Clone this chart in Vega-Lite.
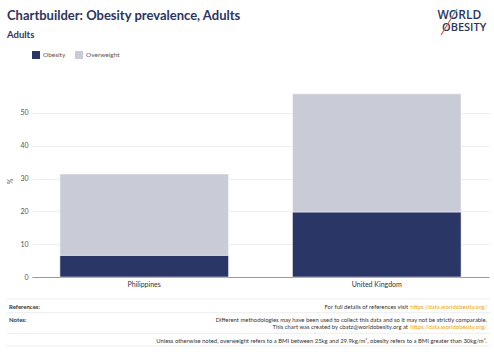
{
  "$schema": "https://vega.github.io/schema/vega-lite/v6.json",
  "background": "white",
  "padding": {"left": 6, "top": 8, "right": 6, "bottom": 2},
  "config": {
    "font": "Lato",
    "view": {"stroke": null}
  },
  "resolve": {"legend": {"color": "independent"}},
  "spacing": 2,
  "vconcat": [
    {
      "width": 457,
      "height": 40,
      "data": {
        "values": [
          {"role": "title", "text": "Chartbuilder: Obesity prevalence, Adults"},
          {"role": "subtitle", "text": "Adults"},
          {"role": "logo1", "text": "WORLD"},
          {"role": "logo2", "text": "OBESITY"},
          {"role": "slash", "text": ""}
        ]
      },
      "layer": [
        {
          "transform": [{"filter": "datum.role === 'title'"}],
          "mark": {"type": "text", "align": "left", "baseline": "alphabetic", "fontSize": 13, "fontWeight": "bold", "color": "#2b3560"},
          "encoding": {"text": {"field": "text"}, "x": {"value": -25}, "y": {"value": 11}}
        },
        {
          "transform": [{"filter": "datum.role === 'subtitle'"}],
          "mark": {"type": "text", "align": "left", "baseline": "alphabetic", "fontSize": 9.5, "fontWeight": "bold", "color": "#2b3560"},
          "encoding": {"text": {"field": "text"}, "x": {"value": -25}, "y": {"value": 29}}
        },
        {
          "transform": [{"filter": "datum.role === 'logo1'"}],
          "mark": {"type": "text", "align": "left", "baseline": "alphabetic", "fontSize": 12, "fontWeight": 600, "color": "#2b3560", "font": "Open Sans"},
          "encoding": {"text": {"field": "text"}, "x": {"value": 405.5}, "y": {"value": 10}}
        },
        {
          "transform": [{"filter": "datum.role === 'logo2'"}],
          "mark": {"type": "text", "align": "left", "baseline": "alphabetic", "fontSize": 11, "fontWeight": 600, "color": "#2b3560", "font": "Open Sans"},
          "encoding": {"text": {"field": "text"}, "x": {"value": 410}, "y": {"value": 21.5}}
        },
        {
          "transform": [{"filter": "datum.role === 'slash'"}],
          "mark": {
            "type": "rule",
            "strokeWidth": 1.3,
            "color": {
              "gradient": "linear",
              "x1": 1, "y1": 0, "x2": 0, "y2": 1,
              "stops": [{"offset": 0, "color": "#2ec4c4"}, {"offset": 0.45, "color": "#e8594c"}, {"offset": 1, "color": "#e8594c"}]
            }
          },
          "encoding": {"x": {"value": 425}, "y": {"value": 0}, "x2": {"value": 409}, "y2": {"value": 26}}
        }
      ]
    },
    {
      "width": 457,
      "height": 192,
      "data": {
        "values": [
          {"country": "Philippines", "category": "Obesity", "value": 6.6, "order": 1},
          {"country": "Philippines", "category": "Overweight", "value": 24.8, "order": 2},
          {"country": "United Kingdom", "category": "Obesity", "value": 19.8, "order": 1},
          {"country": "United Kingdom", "category": "Overweight", "value": 36.0, "order": 2}
        ]
      },
      "mark": {"type": "bar", "stroke": "white", "strokeWidth": 0.5},
      "encoding": {
        "x": {
          "field": "country",
          "type": "nominal",
          "scale": {"paddingInner": 0.275, "paddingOuter": 0.12},
          "axis": {
            "title": null,
            "labelAngle": 0,
            "labelFontSize": 7,
            "labelColor": "#333333",
            "ticks": false,
            "domainColor": "#999999",
            "labelPadding": 3
          }
        },
        "y": {
          "field": "value",
          "type": "quantitative",
          "stack": "zero",
          "scale": {"domain": [0, 58.5], "nice": false},
          "axis": {
            "title": "%",
            "titleFontSize": 7,
            "titleFontWeight": "normal",
            "titleColor": "#555555",
            "titlePadding": 6,
            "values": [0, 10, 20, 30, 40, 50],
            "labelFontSize": 7,
            "labelColor": "#555555",
            "labelPadding": 4,
            "domain": false,
            "ticks": false,
            "gridColor": "#eeeeee"
          }
        },
        "color": {
          "field": "category",
          "type": "nominal",
          "scale": {"domain": ["Obesity", "Overweight"], "range": ["#2a3665", "#c9cbd7"]},
          "legend": {
            "orient": "top",
            "direction": "horizontal",
            "title": null,
            "symbolType": "square",
            "symbolSize": 64,
            "symbolStrokeWidth": 0,
            "symbolOpacity": 1,
            "labelFontSize": 6.5,
            "labelColor": "#555555",
            "labelOffset": 3,
            "offset": 26,
            "columnPadding": 9,
            "padding": 0
          }
        },
        "order": {"field": "order", "type": "quantitative"}
      }
    },
    {
      "width": 457,
      "height": 57,
      "data": {
        "values": [
          {"kind": "rule", "pos": 0},
          {"kind": "rule", "pos": 13.7},
          {"kind": "rule", "pos": 34.3},
          {"kind": "rule", "pos": 47},
          {"kind": "label", "pos": 7.7, "text": "References:"},
          {"kind": "label", "pos": 21.3, "text": "Notes:"},
          {"kind": "note", "pos": 7.7, "text": "For full details of references visit ", "link": "https://data.worldobesity.org/"},
          {"kind": "note", "pos": 21.3, "text": "Different methodologies may have been used to collect this data and so it may not be strictly comparable.", "link": ""},
          {"kind": "note", "pos": 28, "text": "This chart was created by cbatz@worldobesity.org at ", "link": "https://data.worldobesity.org/"},
          {"kind": "note", "pos": 42, "text": "Unless otherwise noted, overweight refers to a BMI between 25kg and 29.9kg/m², obesity refers to a BMI greater than 30kg/m².", "link": ""}
        ]
      },
      "encoding": {
        "y": {
          "field": "pos",
          "type": "quantitative",
          "scale": {"domain": [-10, 47], "reverse": true, "nice": false, "zero": false},
          "axis": null
        }
      },
      "layer": [
        {
          "transform": [{"filter": "datum.kind === 'rule'"}],
          "mark": {"type": "rule", "color": "#eeeeee", "strokeWidth": 1},
          "encoding": {"x": {"value": -25}, "x2": {"value": 458}}
        },
        {
          "transform": [{"filter": "datum.kind === 'label'"}],
          "mark": {"type": "text", "align": "left", "baseline": "middle", "fontSize": 6, "fontWeight": "bold", "color": "#333333"},
          "encoding": {"text": {"field": "text"}, "x": {"value": -23}}
        },
        {
          "transform": [{"filter": "datum.kind === 'note' && datum.link === ''"}],
          "mark": {"type": "text", "align": "right", "baseline": "middle", "fontSize": 5.9, "color": "#333333"},
          "encoding": {"text": {"field": "text"}, "x": {"value": 455}}
        },
        {
          "transform": [{"filter": "datum.kind === 'note' && datum.link !== ''"}],
          "mark": {"type": "text", "align": "right", "baseline": "middle", "fontSize": 5.9, "color": "#333333", "dx": -79},
          "encoding": {"text": {"field": "text"}, "x": {"value": 455}}
        },
        {
          "transform": [{"filter": "datum.kind === 'note' && datum.link !== ''"}],
          "mark": {"type": "text", "align": "right", "baseline": "middle", "fontSize": 5.9, "color": "#f0a500"},
          "encoding": {"text": {"field": "link"}, "x": {"value": 455}}
        }
      ]
    }
  ]
}
